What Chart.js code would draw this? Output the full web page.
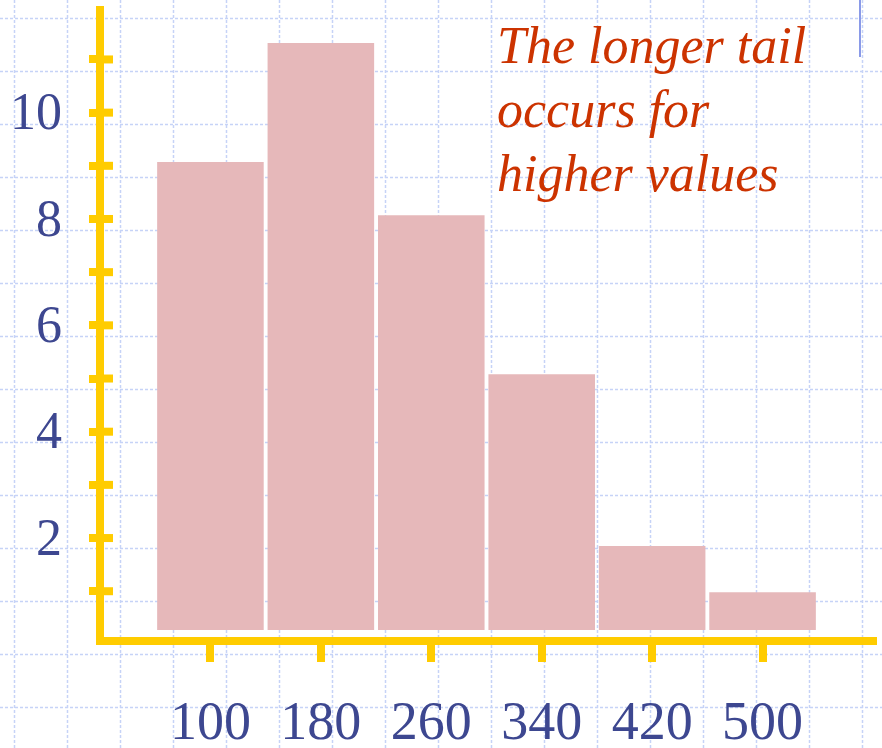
<!DOCTYPE html>
<html><head><meta charset="utf-8">
<script src="https://cdn.jsdelivr.net/npm/chart.js@4/dist/chart.umd.min.js"></script>
<style>
html,body{margin:0;padding:0;background:#fff;overflow:hidden;}
#wrap{position:relative;width:882px;height:748px;}
#c{position:absolute;left:0;top:0;}
#note{position:absolute;left:497px;top:14px;font:italic 52px/64px "Liberation Serif","Times New Roman",serif;color:#cc3300;white-space:nowrap;}
#mark{position:absolute;left:859px;top:0;width:2px;height:57px;background:#8a9ae8;}
</style></head><body>
<div id="wrap"><canvas id="c" width="882" height="748"></canvas>
<div id="note">The longer tail<br>occurs for<br>higher values</div>
<div id="mark"></div></div>
<script>
// ---- data ----
const categories = [100, 180, 260, 340, 420, 500];
const counts = [9.07, 11.31, 8.07, 5.08, 1.85, 0.98];
const barBase = 0.27;
const yTicks = [1, 2, 3, 4, 5, 6, 7, 8, 9, 10, 11];
const yLabels = [2, 4, 6, 8, 10];

const AXIS = '#ffcc00';
const LABEL = '#3d4790';

const paperGrid = {
  id: 'paperGrid',
  beforeDraw(chart) {
    const ctx = chart.ctx, W = chart.width, H = chart.height;
    ctx.save();
    ctx.fillStyle = '#ffffff';
    ctx.fillRect(0, 0, W, H);
    ctx.strokeStyle = '#c6d3f7';
    ctx.lineWidth = 1.5;
    ctx.setLineDash([3, 2]);
    ctx.beginPath();
    for (let x = 14; x < W; x += 53) { ctx.moveTo(x + 0.5, 0); ctx.lineTo(x + 0.5, H); }
    for (let y = 18; y < H; y += 53) { ctx.moveTo(0, y + 0.5); ctx.lineTo(W, y + 0.5); }
    ctx.stroke();
    ctx.restore();
  }
};

const innerTicks = {
  id: 'innerTicks',
  afterDraw(chart) {
    const ctx = chart.ctx, ys = chart.scales.y, left = chart.chartArea.left;
    ctx.save();
    ctx.fillStyle = AXIS;
    ys.ticks.forEach(t => {
      const p = ys.getPixelForValue(t.value);
      ctx.fillRect(left, p - 4, 13, 8);
    });
    ctx.restore();
  }
};

function noPad(s) {
  s.paddingTop = 0; s.paddingBottom = 0; s.paddingLeft = 0; s.paddingRight = 0;
}

new Chart(document.getElementById('c'), {
  type: 'bar',
  data: {
    datasets: [{
      data: categories.map((c, i) => ({ x: c, y: [barBase, counts[i]] })),
      backgroundColor: '#e6b8ba',
      borderWidth: 0,
      categoryPercentage: 1,
      barPercentage: 0.965
    }]
  },
  options: {
    responsive: false,
    animation: false,
    devicePixelRatio: 1,
    layout: { padding: { top: 10, right: 9, left: 0, bottom: 0 } },
    plugins: { legend: { display: false }, tooltip: { enabled: false } },
    scales: {
      x: {
        type: 'linear', min: 20, max: 580, offset: false,
        afterBuildTicks: s => { s.ticks = categories.map(v => ({ value: v })); },
        afterFit: s => { s.height = 107; noPad(s); },
        border: { color: AXIS, width: 8 },
        grid: { offset: false, drawOnChartArea: false, drawTicks: true, tickLength: 21, lineWidth: 8, color: AXIS },
        ticks: {
          autoSkip: false, maxRotation: 0, padding: 30,
          font: { family: '"Liberation Serif", serif', size: 54 }, color: LABEL,
          callback: v => String(v)
        }
      },
      y: {
        min: 0.064, max: 11.93,
        afterBuildTicks: s => { s.ticks = yTicks.map(v => ({ value: v })); },
        afterFit: s => { s.width = 100; noPad(s); },
        border: { color: AXIS, width: 8 },
        grid: { drawOnChartArea: false, drawTicks: true, tickLength: 11, lineWidth: 8, color: AXIS },
        ticks: {
          autoSkip: false, padding: 27, labelOffset: 3,
          font: { family: '"Liberation Serif", serif', size: 52 }, color: LABEL,
          callback: v => yLabels.includes(v) ? String(v) : ''
        }
      }
    }
  },
  plugins: [paperGrid, innerTicks]
});
</script>
</body></html>
